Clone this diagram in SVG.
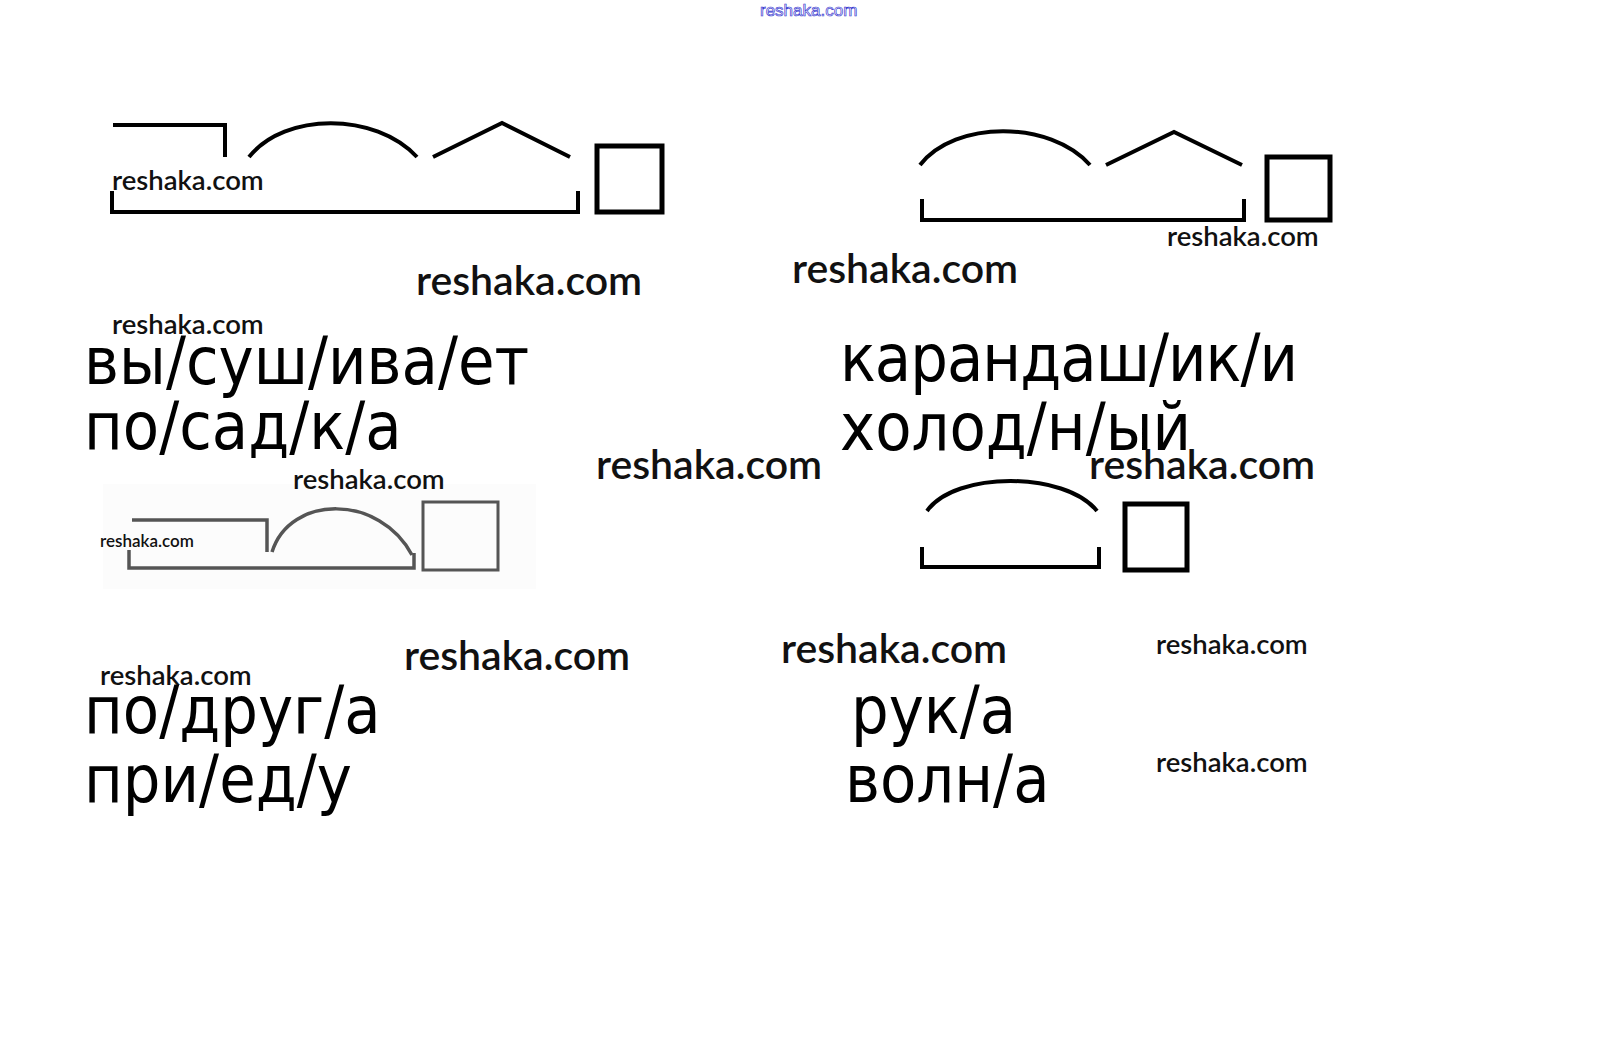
<svg xmlns="http://www.w3.org/2000/svg" width="1615" height="1049" viewBox="0 0 1615 1049">
<style>
.wm{font-family:Lato,"Open Sans",sans-serif;font-weight:600;fill:#111;}
.big{font-size:41px;}
.med{font-size:27.5px;}
.tiny{font-size:17px;}
.word{font-family:"DejaVu Sans Condensed","DejaVu Sans",sans-serif;font-stretch:condensed;font-size:66px;fill:#000;}
.ln{fill:none;stroke:#000;stroke-width:4;stroke-linejoin:miter;}
.sq{fill:none;stroke:#000;stroke-width:5;}
.gl{fill:none;stroke:#555;stroke-width:3.5;}
.gsq{fill:none;stroke:#555;stroke-width:3;}
</style>
<rect width="1615" height="1049" fill="#fff"/>
<text x="760" y="16" font-family="'Liberation Sans',Arial,sans-serif" font-size="17" fill="#fff" stroke="#3a3ad0" stroke-width="0.7">reshaka.com</text>

<g id="scheme1">
<path class="ln" d="M113,125 H225 V157"/>
<path class="ln" d="M249,157 C285,112 375,112 417,157"/>
<path class="ln" d="M433,157 L502,123 L570,157"/>
<path class="ln" d="M112,191 V212 H578 V191"/>
<rect class="sq" x="597" y="146" width="65" height="66"/>
</g>

<g id="scheme2">
<path class="ln" d="M920,165 C955,120 1050,120 1090,165"/>
<path class="ln" d="M1106,165 L1174,132 L1242,165"/>
<path class="ln" d="M922,199 V220 H1244 V199"/>
<rect class="sq" x="1267" y="157" width="63" height="63"/>
</g>

<g id="scheme3">
<rect x="103" y="484" width="433" height="105" fill="#fcfcfc"/>
<path class="gl" d="M132,520 H267 V552"/>
<path class="gl" d="M272,552 C290,494 380,494 412,555"/>
<path class="gl" d="M129,550 V568 H414 V553"/>
<rect class="gsq" x="423" y="502" width="75" height="68"/>
</g>

<g id="scheme4">
<path class="ln" d="M927,511 C955,471 1065,471 1097,511"/>
<path class="ln" d="M922,547 V567 H1099 V547"/>
<rect class="sq" x="1125" y="504" width="62" height="66"/>
</g>

<g id="words">
<text class="word" x="84" y="384">вы/суш/ива/ет</text>
<text class="word" x="84" y="449">по/сад/к/а</text>
<text class="word" x="840" y="381" textLength="458">карандаш/ик/и</text>
<text class="word" x="840" y="450">холод/н/ый</text>
<text class="word" x="84" y="733">по/друг/а</text>
<text class="word" x="84" y="802">при/ед/у</text>
<text class="word" x="851" y="733">рук/а</text>
<text class="word" x="845" y="802">волн/а</text>
</g>

<g id="watermarks">
<text class="wm med" x="112" y="190">reshaka.com</text>
<text class="wm big" x="416" y="295">reshaka.com</text>
<text class="wm big" x="792" y="283">reshaka.com</text>
<text class="wm med" x="1167" y="246">reshaka.com</text>
<text class="wm med" x="112" y="334">reshaka.com</text>
<text class="wm big" x="596" y="479">reshaka.com</text>
<text class="wm big" x="1089" y="479">reshaka.com</text>
<text class="wm med" x="293" y="489">reshaka.com</text>
<text class="wm tiny" x="100" y="547">reshaka.com</text>
<text class="wm big" x="404" y="670">reshaka.com</text>
<text class="wm big" x="781" y="663">reshaka.com</text>
<text class="wm med" x="1156" y="654">reshaka.com</text>
<text class="wm med" x="100" y="685">reshaka.com</text>
<text class="wm med" x="1156" y="772">reshaka.com</text>
</g>
</svg>
